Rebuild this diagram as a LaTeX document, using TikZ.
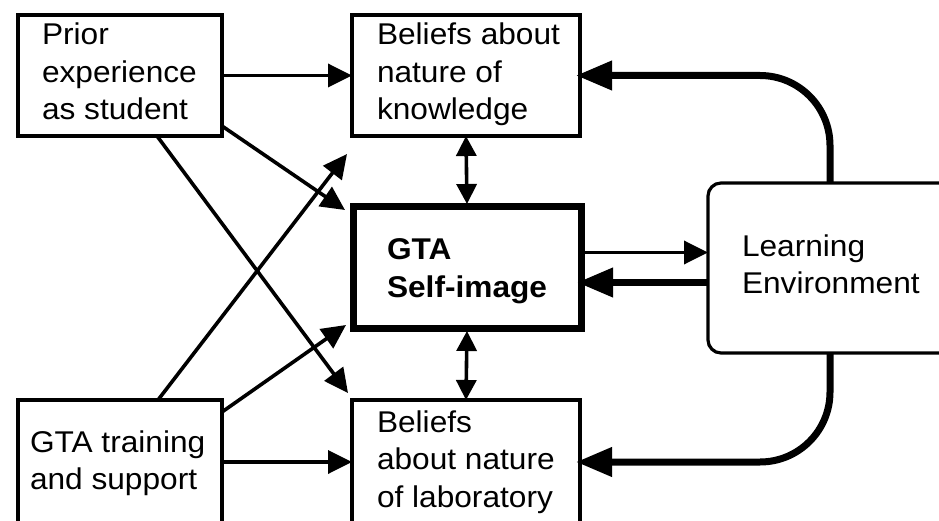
\documentclass[tikz,border=0pt]{standalone}
\usepackage{fontspec}
\setmainfont{Liberation Sans}[FakeStretch=1.055]
\usetikzlibrary{arrows.meta,calc}
\begin{document}
\begin{tikzpicture}[x=1pt,y=-1pt,
  box/.style={draw, line width=3.2pt, inner sep=0pt, outer sep=0pt},
  txt/.style={anchor=base west, inner sep=0pt, outer sep=0pt, align=left,
    font=\fontsize{30}{37.5}\selectfont},
  arr/.style={line width=3.6pt, -{Triangle[length=24pt,width=23pt]}},
  arrdbl/.style={line width=3.6pt, {Triangle[length=20pt,width=20pt]}-{Triangle[length=20pt,width=20pt]}},
  arrthick/.style={line width=7pt, -{Triangle[length=36pt,width=28pt]}}]
\useasboundingbox (0,0) rectangle (939,521);
\clip (0,0) rectangle (939,521);
\fill[white] (0,0) rectangle (939,521);
% boxes
\node[box, minimum width=204pt, minimum height=121pt] (prior) at (120,75.5) {};
\node[box, minimum width=228pt, minimum height=121pt] (bk) at (466,75.5) {};
\node[box, line width=7pt, minimum width=228pt, minimum height=121pt] (gta) at (467,267.5) {};
\node[box, minimum width=228pt, minimum height=160pt] (bl) at (466,480) {};
\node[box, minimum width=204pt, minimum height=160pt] (train) at (120,480) {};
\node[box, rounded corners=13pt, minimum width=262pt, minimum height=170pt] (le) at (839,268) {};
% texts (anchor = baseline of last line)
\node[txt] (tprior) at (42,120) {Prior\\experience\\as student};
\node[txt] (tbk) at (377,120) {Beliefs about\\nature of\\knowledge};
\node[txt, font=\fontsize{30}{38}\selectfont\bfseries] (tgta) at (387,298) {GTA\\Self-image};
\node[txt, font=\fontsize{30}{37}\selectfont] (tle) at (742,294) {Learning\\Environment};
\node[txt, font=\fontsize{30}{36.5}\selectfont] (ttrain) at (30,489) {GTA training\\and support};
\node[txt, font=\fontsize{30}{37.5}\selectfont] (tbl) at (377,507) {Beliefs\\about nature\\of laboratory};
% connectors
\draw[arr] (prior.east) -- (bk.west);
\draw[arr] ($(prior.south east)+(0,-10)$) -- ($(gta.north west)+(-8,3)$);
\draw[arr] ($(prior.south)+(37,0)$) -- ($(bl.north west)+(-4,-7)$);
\draw[arr] ($(train.north)+(38,0)$) -- ($(bk.south west)+(-5,18)$);
\draw[arr] ($(train.north east)+(0,12)$) -- ($(gta.south west)+(-7,-3)$);
\coordinate (t1) at ($(train.north east)+(0,62)$);
\draw[arr] (t1) -- (t1 -| bl.west);
\draw[arrdbl, shorten >=3pt] (bk.south) -- (gta.north);
\draw[arrdbl, shorten <=3pt] (gta.south) -- (bl.north);
\coordinate (g1) at ($(gta.east)+(0,-15)$);
\coordinate (g2) at ($(gta.east)+(0,15)$);
\draw[arr, shorten <=3pt] (g1) -- (g1 -| le.west);
\draw[arrthick, shorten >=-4pt] (g2 -| le.west) -- (g2);
\draw[arrthick, rounded corners=70pt, shorten >=-4pt] ($(le.north west)+(122,0)$) |- (bk.east);
\draw[arrthick, rounded corners=70pt, shorten >=-4pt] ($(le.south west)+(122,0)$) |- ($(bl.north east)+(0,62)$);
\end{tikzpicture}
\end{document}
